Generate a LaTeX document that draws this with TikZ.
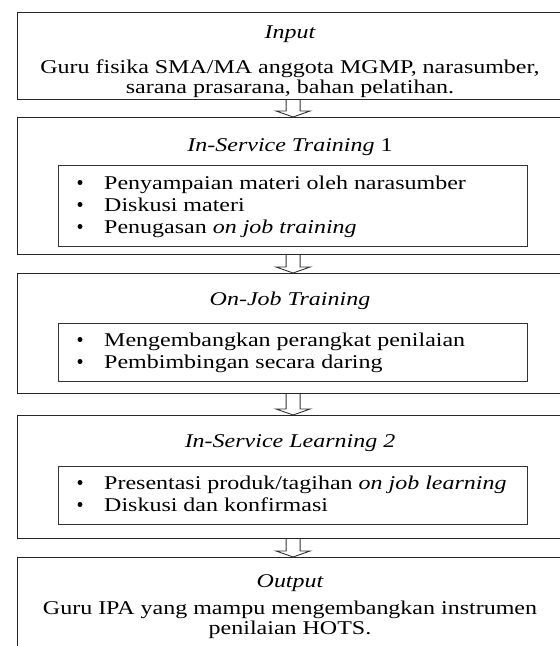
\documentclass[tikz,border=0pt]{standalone}
\usepackage{fontspec}
\setmainfont{Liberation Serif}[FakeStretch=1.23]
\usetikzlibrary{calc}
\begin{document}
\begin{tikzpicture}[x=1pt,y=-1pt,
  outerbox/.style={draw=black!85, line width=1.2pt, anchor=north west, inner sep=0pt, minimum width=551pt},
  innerbox/.style={draw=black!80, line width=1.2pt, anchor=north west, inner sep=0pt, minimum width=469pt},
  txt/.style={anchor=base, inner sep=0pt, font=\fontsize{19.5}{21}\selectfont},
  ttl/.style={txt, font=\fontsize{19.5}{21}\selectfont\itshape},
  bul/.style={anchor=base west, inner sep=0pt, font=\fontsize{19.5}{21}\selectfont},
  dot/.style={circle, fill=black, draw=none, inner sep=0pt, minimum size=5pt},
  arr/.style={draw=black!80, line width=0.9pt, line join=miter}
]
\useasboundingbox (0,0) rectangle (560,646);
\clip (0,0) rectangle (560,646);

% outer boxes
\node[outerbox, minimum height=87pt]  (b1) at (17,12) {};
\node[outerbox, minimum height=137pt] (b2) at (17,117) {};
\node[outerbox, minimum height=120pt] (b3) at (17,273) {};
\node[outerbox, minimum height=123pt] (b4) at (17,415) {};
\node[outerbox, minimum height=130pt] (b5) at (17,557) {};

% inner boxes
\node[innerbox, minimum height=81pt] (i2) at (58,165) {};
\node[innerbox, minimum height=58pt] (i3) at (58,323) {};
\node[innerbox, minimum height=58pt] (i4) at (58,466) {};

% box 1
\node[ttl] (t1) at (290,38) {Input};
\node[txt] (l11) at (290,73) {Guru fisika SMA/MA anggota MGMP, narasumber,};
\node[txt] (l12) at (290,93) {sarana prasarana, bahan pelatihan.};

% box 2
\node[txt] (t2) at (290,151) {\textit{In-Service Training} 1};
\node[dot] (d21) at (80,182.5) {};
\node[bul] (l21) at (104,189) {Penyampaian materi oleh narasumber};
\node[dot] (d22) at (80,204.5) {};
\node[bul] (l22) at (104,211) {Diskusi materi};
\node[dot] (d23) at (80,226.5) {};
\node[bul] (l23) at (104,233) {Penugasan \textit{on job training}};

% box 3
\node[ttl] (t3) at (290,305) {On-Job Training};
\node[dot] (d31) at (80,339.5) {};
\node[bul] (l31) at (104,346) {Mengembangkan perangkat penilaian};
\node[dot] (d32) at (80,361.5) {};
\node[bul] (l32) at (104,368) {Pembimbingan secara daring};

% box 4
\node[ttl] (t4) at (290,447) {In-Service Learning 2};
\node[dot] (d41) at (80,482.5) {};
\node[bul] (l41) at (104,489) {Presentasi produk/tagihan \textit{on job learning}};
\node[dot] (d42) at (80,504.5) {};
\node[bul] (l42) at (104,511) {Diskusi dan konfirmasi};

% box 5
\node[ttl] (t5) at (290,587) {Output};
\node[txt] (l51) at (290,614) {Guru IPA yang mampu mengembangkan instrumen};
\node[txt] (l52) at (290,634) {penilaian HOTS.};

% hollow arrows
\foreach \a/\b in {b1/b2, b2/b3, b3/b4, b4/b5}{
  \draw[arr] ($(\a.south)+(-7,0)$) -- ($(\b.north)+(-7,-6)$) -- ($(\b.north)+(-17,-6)$)
    -- (\b.north) -- ($(\b.north)+(17,-6)$) -- ($(\b.north)+(7,-6)$) -- ($(\a.south)+(7,0)$);
}
\end{tikzpicture}
\end{document}
